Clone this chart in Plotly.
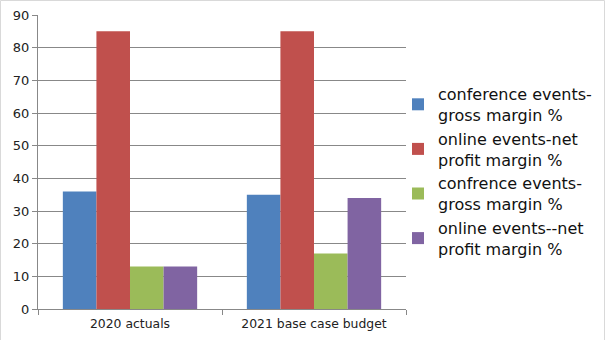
import plotly.graph_objects as go

categories = ["2020 actuals", "2021 base case budget"]
series_names = [
    "conference events-<br>gross margin %",
    "online events-net<br>profit margin %",
    "confrence events-<br>gross margin %",
    "online events--net<br>profit margin %",
]
series_values = [
    [36, 35],
    [85, 85],
    [13, 17],
    [13, 34],
]
series_colors = ["#4F81BD", "#C0504D", "#9BBB59", "#8064A2"]
y_ticks = [0, 10, 20, 30, 40, 50, 60, 70, 80, 90]

W, H = 605, 340
ML, MR, MT, MB = 38, 199, 15, 31
pw = W - ML - MR
ph = H - MT - MB

fig = go.Figure()
for name, vals, col in zip(series_names, series_values, series_colors):
    fig.add_trace(go.Bar(x=categories, y=vals, name=name,
                         marker=dict(color=col, line=dict(width=0))))

fig.update_layout(
    width=W, height=H,
    margin=dict(l=ML, r=MR, t=MT, b=MB, autoexpand=False),
    paper_bgcolor="white", plot_bgcolor="white",
    barmode="group", bargap=0.27, bargroupgap=0,
    font=dict(family="DejaVu Sans", size=12, color="#222222"),
    showlegend=True,
    legend=dict(x=(398 - ML) / pw, y=(H - MB - 77) / ph,
                xanchor="left", yanchor="top",
                font=dict(size=16, color="#111111"),
                tracegroupgap=0, itemwidth=30, bgcolor="rgba(0,0,0,0)"),
    xaxis=dict(showgrid=False, showline=True, linecolor="#888888", linewidth=1,
               ticks="outside", tickson="boundaries", ticklen=5,
               tickcolor="#888888", tickfont=dict(size=12.4),
               ticklabelstandoff=3),
    yaxis=dict(range=[0, 90], tickvals=y_ticks, showgrid=True,
               gridcolor="#888888", gridwidth=1, showline=True,
               linecolor="#888888", ticks="outside", ticklen=5,
               tickcolor="#888888", zeroline=False, tickfont=dict(size=13)),
)

# thin frame around the whole figure
fig.add_shape(type="rect", xref="paper", yref="paper",
              x0=(0.5 - ML) / pw, x1=(W - 0.5 - ML) / pw,
              y0=(MB - (H - 0.5)) / ph, y1=(H - 0.5 - MB) / ph,
              line=dict(color="#D9D9D9", width=1), layer="below")

fig.write_html("out.html")
